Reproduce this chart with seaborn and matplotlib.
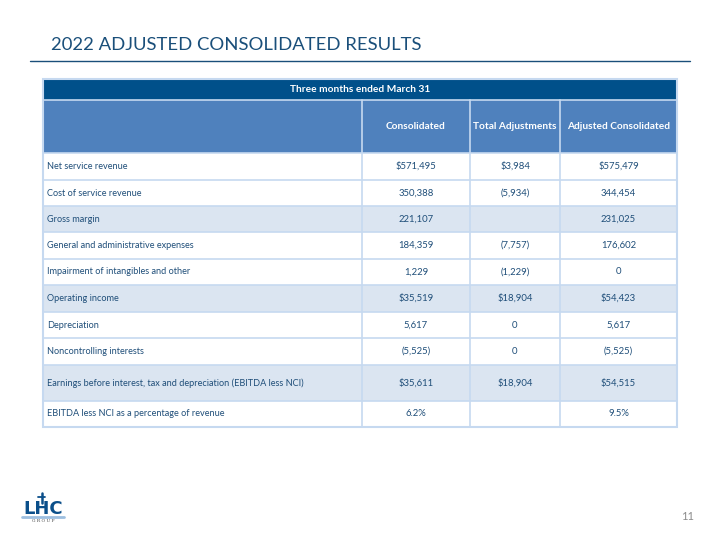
import matplotlib
matplotlib.use("Agg")
import matplotlib.pyplot as plt
from matplotlib.patches import Rectangle
import seaborn as sns

sns.set_theme(style="white")
plt.rcParams['font.family'] = ['Lato', 'DejaVu Sans']

# ---- data ----
title = "2022 ADJUSTED CONSOLIDATED RESULTS"
period = "Three months ended March 31"
columns = ["Consolidated", "Total Adjustments", "Adjusted Consolidated"]
row_labels = [
    "Net service revenue",
    "Cost of service revenue",
    "Gross margin",
    "General and administrative expenses",
    "Impairment of intangibles and other",
    "Operating income",
    "Depreciation",
    "Noncontrolling interests",
    "Earnings before interest, tax and depreciation (EBITDA less NCI)",
    "EBITDA less NCI as a percentage of revenue",
]
consolidated = ["$571,495", "350,388", "221,107", "184,359", "1,229",
                "$35,519", "5,617", "(5,525)", "$35,611", "6.2%"]
adjustments = ["$3,984", "(5,934)", "", "(7,757)", "(1,229)",
               "$18,904", "0", "0", "$18,904", ""]
adjusted = ["$575,479", "344,454", "231,025", "176,602", "0",
            "$54,423", "5,617", "(5,525)", "$54,515", "9.5%"]
shaded = [False, False, True, False, False, True, False, False, True, False]
page_number = "11"

# ---- layout (pixels) ----
W, H = 720, 540
col_edges = [43, 362, 470, 560, 677]
row_edges = [153, 180, 206, 232, 259, 285, 312, 338, 365, 401, 427]
top_hdr = (79, 100)
col_hdr = (100, 153)

DARK = "#00508A"
MID = "#4F81BD"
LIGHT = "#DBE5F1"
GRID = "#C6D9F0"
TXT = "#1F4E79"

fig = plt.figure(figsize=(7.2, 5.4), dpi=100)
ax = fig.add_axes([0, 0, 1, 1])
ax.set_xlim(0, W)
ax.set_ylim(H, 0)
ax.axis("off")

# title
ax.text(51, 45, title, fontsize=13.3, color="#1A4F7A", va="center", ha="left")
ax.plot([30, 690], [60.5, 60.5], color="#1A4F7A", lw=1.0)

x0, x1 = col_edges[0], col_edges[-1]
# period header
ax.add_patch(Rectangle((x0, top_hdr[0]), x1 - x0, top_hdr[1] - top_hdr[0],
                       facecolor=DARK, edgecolor="none"))
ax.text((x0 + x1) / 2, sum(top_hdr) / 2, period, color="white",
        fontsize=7.3, fontweight="bold", ha="center", va="center")
# column header
ax.add_patch(Rectangle((x0, col_hdr[0]), x1 - x0, col_hdr[1] - col_hdr[0],
                       facecolor=MID, edgecolor="none"))
for i, c in enumerate(columns):
    cx = (col_edges[i + 1] + col_edges[i + 2]) / 2
    ax.text(cx, sum(col_hdr) / 2, c, color="white", fontsize=7.3,
            fontweight="bold", ha="center", va="center")

# body rows
value_cols = [consolidated, adjustments, adjusted]
for r, lab in enumerate(row_labels):
    y0, y1 = row_edges[r], row_edges[r + 1]
    fc = LIGHT if shaded[r] else "white"
    ax.add_patch(Rectangle((x0, y0), x1 - x0, y1 - y0, facecolor=fc,
                           edgecolor="none"))
    ym = (y0 + y1) / 2
    ax.text(x0 + 4, ym, lab, fontsize=6.6, color=TXT, ha="left", va="center")
    for i, vals in enumerate(value_cols):
        cx = (col_edges[i + 1] + col_edges[i + 2]) / 2
        ax.text(cx, ym, vals[r], fontsize=6.8, color=TXT, ha="center",
                va="center")

# grid lines
for y in row_edges:
    ax.plot([x0, x1], [y, y], color=GRID, lw=1.2)
for x in col_edges[1:-1]:
    ax.plot([x, x], [col_hdr[0], row_edges[-1]], color=GRID, lw=1.2)
ax.plot([x0, x1], [col_hdr[0], col_hdr[0]], color=GRID, lw=1.2)
ax.add_patch(Rectangle((x0, top_hdr[0]), x1 - x0, row_edges[-1] - top_hdr[0],
                       facecolor="none", edgecolor=GRID, lw=1.5))

# logo
ax.text(43, 509, "LHC", fontsize=13, fontweight="heavy", color="#0B4F8A",
        ha="center", va="center", family="DejaVu Sans")
ax.plot([41.5, 41.5], [493, 503], color="#0B4F8A", lw=1.8)
ax.plot([38, 45], [497, 497], color="#0B4F8A", lw=1.3)
ax.plot([22, 64], [516.5, 516.5], color="#9DBFE0", lw=2)
ax.text(43, 521, "G R O U P", fontsize=3.2, color="#444444", ha="center",
        va="center", family="DejaVu Serif")

# page number
ax.text(688, 516, page_number, fontsize=8, color="#8C8C8C", ha="center",
        va="center")

fig.savefig("out.png", dpi=100)
